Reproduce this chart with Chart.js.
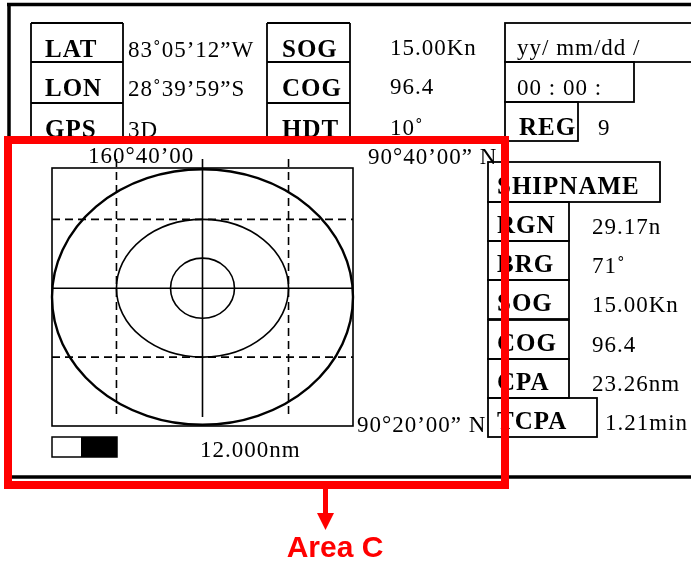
<!DOCTYPE html>
<html>
<head>
<meta charset="utf-8">
<script src="https://cdn.jsdelivr.net/npm/chart.js@4"></script>
<style>
  body { margin: 0; background: #fff; }
  canvas { display: block; }
</style>
</head>
<body>
<canvas id="radar" width="691" height="562"></canvas>
<script>
const ownLabels = ["LAT", "LON", "GPS"];
const ownValues = ["83˚05’12”W", "28˚39’59”S", "3D"];
const motionLabels = ["SOG", "COG", "HDT"];
const motionValues = ["15.00Kn", "96.4", "10˚"];
const dateText = ["yy/ mm/dd /", "00 : 00 :"];
const regLabel = "REG";
const regValue = "9";
const shipName = "SHIPNAME";
const targetLabels = ["RGN", "BRG", "SOG", "COG", "CPA", "TCPA"];
const targetValues = ["29.17n", "71˚", "15.00Kn", "96.4", "23.26nm", "1.21min"];
const cornerLabels = ["160°40’00", "90°40’00” N", "90°20’00” N"];
const rangeText = "12.000nm";
const areaName = "Area C";

// radar grid and range rings, in nm from own ship
const gridX = [-6.86, 0, 6.86];
const gridY = [-5.5, 0, 5.5];
const ringRx = [2.55, 6.86, 12];
const ringRy = [2.4, 5.5, 10.2];
const ringCy = [0, 0, -0.7];

const labelFont = 'bold 25px "Liberation Serif"';
const valueFont = '23px "Liberation Serif"';

function line(g, x1, y1, x2, y2) {
  g.beginPath();
  g.moveTo(x1, y1);
  g.lineTo(x2, y2);
  g.stroke();
}

function write(g, s, x, y, font) {
  g.font = font;
  g.fillText(s, x, y);
}

const panelPlugin = {
  id: "panel",
  afterDraw(chart) {
    const g = chart.ctx;
    const area = chart.chartArea;
    const xs = chart.scales.x;
    const ys = chart.scales.y;
    g.save();
    g.fillStyle = "#000";
    g.strokeStyle = "#000";
    g.textBaseline = "alphabetic";
    g.letterSpacing = "1px";

    // outer frame
    g.lineWidth = 3.5;
    line(g, 9, 3, 9, 479);
    line(g, 7, 4.5, 691, 4.5);
    line(g, 7, 477, 691, 477);

    // own ship table
    g.lineWidth = 1.8;
    const rows = [23, 62, 103, 143];
    [[31, 123], [267, 350]].forEach(([a, b]) => {
      rows.forEach(r => line(g, a, r, b, r));
      line(g, a, 23, a, 143);
      line(g, b, 23, b, 143);
    });
    ownLabels.forEach((s, i) => write(g, s, 45, rows[i] + 34, labelFont));
    ownValues.forEach((s, i) => write(g, s, 128, rows[i] + 34, valueFont));
    motionLabels.forEach((s, i) => write(g, s, 282, rows[i] + 34, labelFont));
    motionValues.forEach((s, i) => write(g, s, 390, rows[i] + 32, valueFont));

    // date, time, region
    g.strokeRect(505, 23, 200, 39);
    g.strokeRect(505, 62, 129, 40);
    g.strokeRect(505, 102, 73, 39);
    write(g, dateText[0], 517, 55, valueFont);
    write(g, dateText[1], 517, 95, valueFont);
    write(g, regLabel, 519, 135, labelFont);
    write(g, regValue, 598, 135, valueFont);

    // target table
    g.strokeRect(488, 162, 172, 40);
    write(g, shipName, 497, 194, labelFont);
    const tRows = [202, 241, 280, 320, 359, 398];
    targetLabels.forEach((s, i) => {
      const w = i === 5 ? 109 : 81;
      g.strokeRect(488, tRows[i], w, 39);
      write(g, s, 497, tRows[i] + 31, labelFont);
      write(g, targetValues[i], i === 5 ? 605 : 592, tRows[i] + 32, valueFont);
    });

    // radar frame and grid
    const cx = xs.getPixelForValue(0);
    g.lineWidth = 1.6;
    g.strokeRect(area.left, area.top, area.right - area.left, area.bottom - area.top);
    gridX.forEach(v => {
      const px = xs.getPixelForValue(v);
      g.setLineDash(v === 0 ? [] : [8, 5]);
      line(g, px, area.top - 9, px, area.bottom - 9);
    });
    gridY.forEach(v => {
      const py = ys.getPixelForValue(v);
      g.setLineDash(v === 0 ? [] : [8, 5]);
      line(g, area.left, py, area.right, py);
    });
    g.setLineDash([]);
    ringRx.forEach((r, i) => {
      const rx = xs.getPixelForValue(r) - cx;
      const ry = ys.getPixelForValue(0) - ys.getPixelForValue(ringRy[i]);
      g.lineWidth = i === 2 ? 2.4 : 1.6;
      g.beginPath();
      g.ellipse(cx, ys.getPixelForValue(ringCy[i]), rx, ry, 0, 0, Math.PI * 2);
      g.stroke();
    });

    // corner positions and range scale
    write(g, cornerLabels[0], 88, area.top - 5, valueFont);
    write(g, cornerLabels[1], area.right + 15, area.top - 4, valueFont);
    write(g, cornerLabels[2], area.right + 4, area.bottom + 6, valueFont);
    g.lineWidth = 1.5;
    g.strokeRect(area.left, area.bottom + 11, 65, 20);
    g.fillRect(area.left + 29, area.bottom + 11, 36, 20);
    write(g, rangeText, 200, area.bottom + 31, valueFont);

    // highlighted area
    g.strokeStyle = "#ff0000";
    g.fillStyle = "#ff0000";
    g.lineWidth = 8;
    g.strokeRect(8, 140, 497, 345);
    g.fillRect(323, 489, 5, 25);
    g.beginPath();
    g.moveTo(317, 513);
    g.lineTo(334, 513);
    g.lineTo(325.5, 530);
    g.closePath();
    g.fill();
    g.letterSpacing = "0px";
    g.textAlign = "center";
    write(g, areaName, 335, 557, 'bold 30px "Liberation Sans"');
    g.restore();
  }
};

new Chart(document.getElementById("radar"), {
  type: "scatter",
  data: { datasets: [] },
  options: {
    responsive: false,
    animation: false,
    layout: { padding: { left: 52, top: 168, right: 338, bottom: 136 } },
    plugins: { legend: { display: false }, tooltip: { enabled: false } },
    scales: {
      x: { display: false, min: -12, max: 12 },
      y: { display: false, min: -11, max: 9.6 }
    }
  },
  plugins: [panelPlugin]
});
</script>
</body>
</html>
